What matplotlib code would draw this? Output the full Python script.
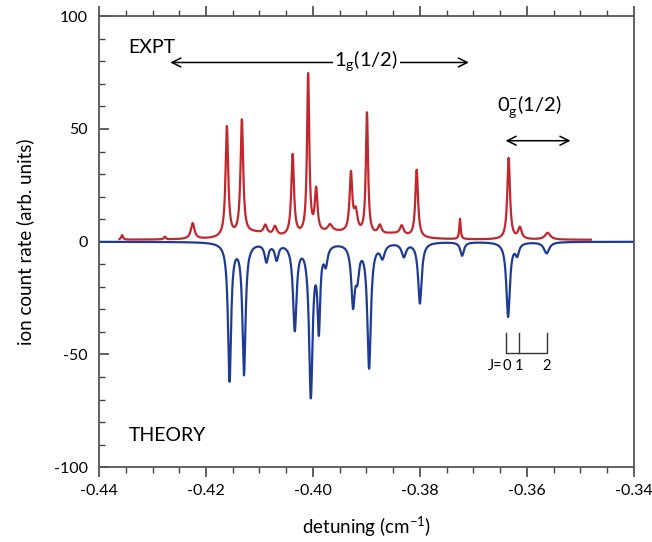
import matplotlib
matplotlib.use('Agg')
import matplotlib.pyplot as plt
import numpy as np

plt.rcParams['font.family'] = ['Lato', 'DejaVu Sans']
plt.rcParams['axes.unicode_minus'] = False

expt_pos = [-0.4357, -0.4277, -0.4225, -0.4161, -0.4133, -0.4089, -0.4071, -0.4038,
            -0.4009, -0.3994, -0.3968, -0.3929, -0.3920, -0.3899, -0.3875, -0.3834,
            -0.3806, -0.3725, -0.3634, -0.3613, -0.3561,
            -0.4110, -0.3960, -0.3850]
expt_amp = [2.0, 1.2, 7.0, 49.0, 51.0, 4.0, 4.0, 36.0,
            71.0, 19.0, 3.0, 26.0, 9.0, 54.0, 4.0, 4.0,
            30.0, 9.0, 36.0, 5.0, 3.0,
            2.5, 3.0, 2.0]
expt_hw = [0.0002, 0.0002, 0.0004, 0.0003, 0.0003, 0.0004, 0.0004, 0.0003,
           0.00025, 0.0003, 0.0005, 0.0003, 0.0004, 0.00025, 0.0004, 0.0004,
           0.0003, 0.00015, 0.0003, 0.0004, 0.0006,
           0.003, 0.005, 0.003]
expt_range = [-0.4362, -0.3480]

# theory lines (drawn downward)
theo_pos = [-0.4156, -0.4129, -0.4087, -0.4068, -0.4034, -0.4004, -0.3989, -0.3976,
            -0.3925, -0.3917, -0.3895, -0.3870, -0.3830, -0.3800, -0.3721, -0.3635,
            -0.3618, -0.3563]
theo_amp = [61.0, 58.0, 8.0, 7.0, 38.0, 67.0, 36.0, 8.0,
            26.0, 12.0, 55.0, 6.0, 6.0, 27.0, 6.0, 33.0,
            5.0, 5.0]
theo_hw = [0.00035, 0.00035, 0.0004, 0.0004, 0.0004, 0.0004, 0.0003, 0.0004,
           0.0004, 0.0004, 0.0004, 0.0005, 0.0005, 0.0004, 0.0004, 0.0004,
           0.0004, 0.0006]

# J bracket for the 0g- band
j_pos = [-0.3638, -0.3615, -0.3563]
j_labels = ['0', '1', '2']


def spectrum(x, pos, amp, hw):
    y = np.zeros_like(x)
    for p, a, w in zip(pos, amp, hw):
        y += a * w**2 / ((x - p)**2 + w**2)
    return y


fig = plt.figure(figsize=(6.52, 5.42), dpi=100)
ax = fig.add_axes([0.152, 0.138, 0.820, 0.832])

red = '#c1272d'
blue = '#1f3c93'

xt = np.linspace(-0.44, -0.34, 4000)
ax.plot(xt, -spectrum(xt, theo_pos, theo_amp, theo_hw), color=blue, lw=1.6)

xe = np.linspace(expt_range[0], expt_range[1], 4000)
ye = spectrum(xe, expt_pos, expt_amp, expt_hw) + 0.8
ax.plot(xe, ye, color=red, lw=1.6)

ax.set_xlim(-0.44, -0.34)
ax.set_ylim(-100, 100)
ax.set_xticks(np.arange(-0.44, -0.3399, 0.02))
ax.set_xticks(np.arange(-0.44, -0.3399, 0.005), minor=True)
ax.set_xticklabels(['%.2f' % v for v in np.arange(-0.44, -0.3399, 0.02)])
ax.set_yticks([-100, -50, 0, 50, 100])
ax.set_yticks(np.arange(-100, 101, 10), minor=True)
ax.tick_params(axis='x', which='both', direction='out', top=True, bottom=True,
               labelsize=11.5, color='#444444', pad=5)
ax.tick_params(axis='x', which='major', length=7, width=1.2)
ax.tick_params(axis='x', which='minor', length=4, width=1.0)
ax.tick_params(axis='y', which='both', direction='in', left=True, right=False,
               labelsize=11.5, color='#444444', pad=8)
ax.tick_params(axis='y', which='major', length=7, width=1.2)
ax.tick_params(axis='y', which='minor', length=4, width=1.0)
for s in ax.spines.values():
    s.set_color('#555555')
    s.set_linewidth(1.3)

ax.set_xlabel('detuning (cm$^{\\mathregular{-1}}$)', fontsize=13.5, labelpad=12)
ax.set_ylabel('ion count rate (arb. units)', fontsize=13.5, labelpad=14)

ax.text(-0.4345, 86, 'EXPT', fontsize=14, va='center', ha='left')
ax.text(-0.4345, -86, 'THEORY', fontsize=14, va='center', ha='left')

# 1g(1/2) band arrow
ax.annotate('', xy=(-0.4272, 79.5), xytext=(-0.3703, 79.5),
            arrowprops=dict(arrowstyle='<->', color='black', lw=1.1,
                            mutation_scale=16))
ax.text(-0.3900, 80, r'1$_{\mathregular{g}}$(1/2)', fontsize=14.5, ha='center',
        va='center', bbox=dict(facecolor='white', edgecolor='none', pad=1))

# 0g-(1/2) band arrow
ax.annotate('', xy=(-0.3645, 44.8), xytext=(-0.3513, 44.8),
            arrowprops=dict(arrowstyle='<->', color='black', lw=1.1,
                            mutation_scale=16))
ax.text(-0.3595, 59.5, r'0$_{\mathregular{g}}^{\mathregular{-}}$(1/2)', fontsize=14.5,
        ha='center', va='center')

# J bracket
ax.plot([j_pos[0], j_pos[0], j_pos[-1], j_pos[-1]], [-40.5, -49.5, -49.5, -40.5],
        color='#333333', lw=1.0)
ax.plot([j_pos[1], j_pos[1]], [-40.5, -49.5], color='#333333', lw=1.0)
ax.text(j_pos[0] - 0.0007, -55, 'J=', fontsize=10.5, ha='right', va='center')
for p, lab in zip(j_pos, j_labels):
    ax.text(p, -55, lab, fontsize=10.5, ha='center', va='center')

fig.savefig('out.png', dpi=100)
